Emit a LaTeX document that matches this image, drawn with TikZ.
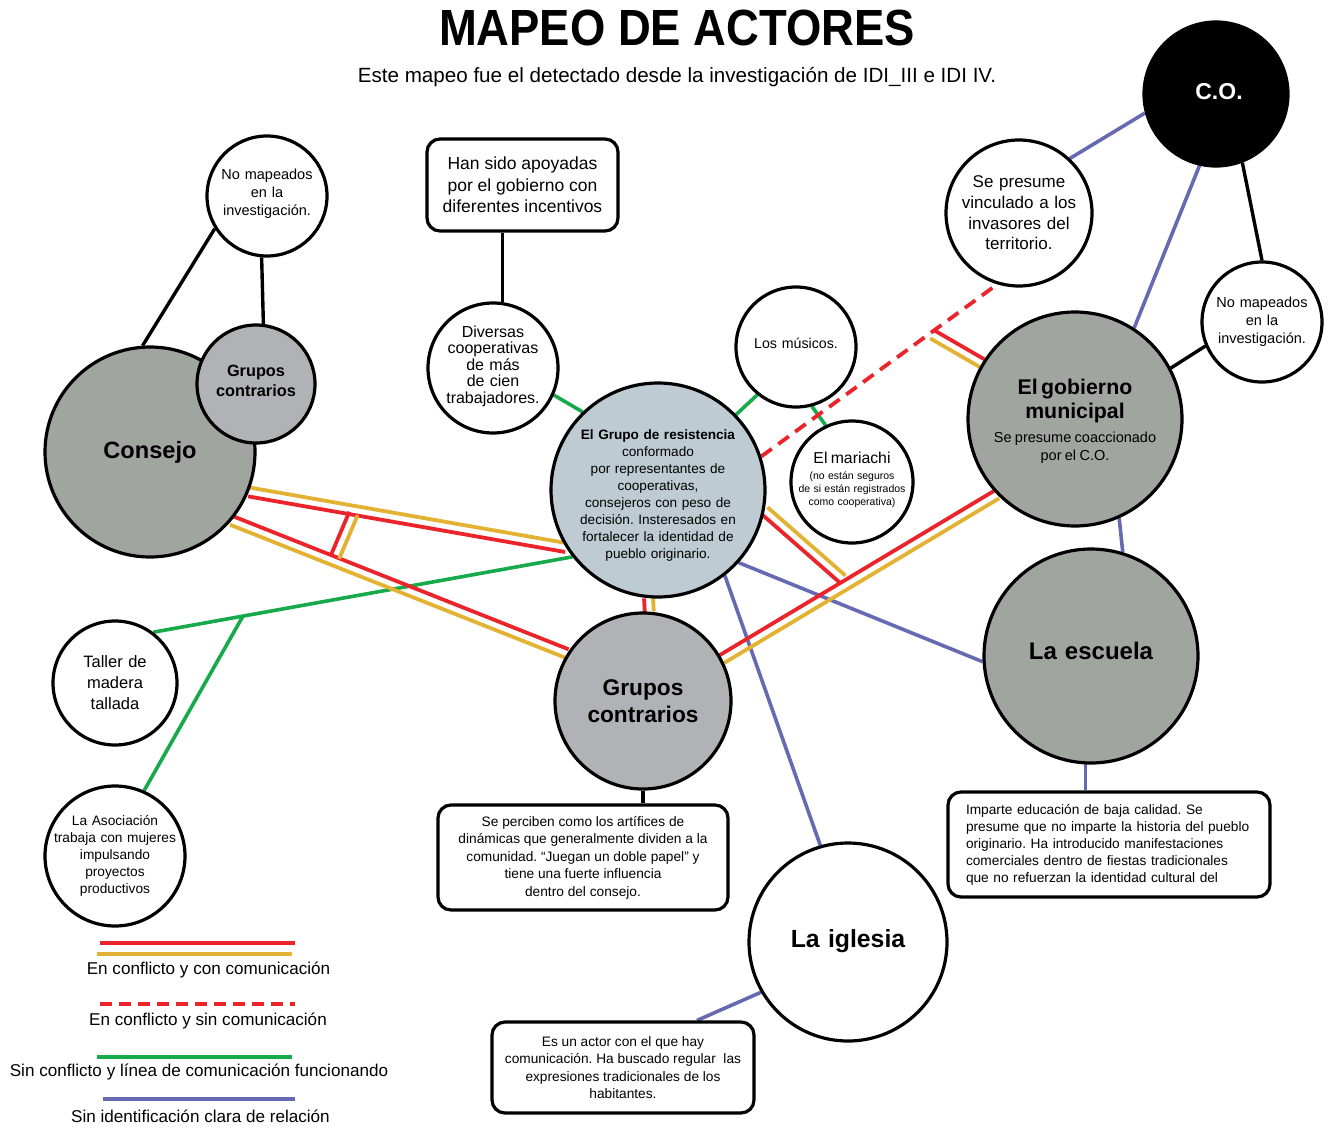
\documentclass[tikz,border=0pt]{standalone}
\usepackage{fontspec}
\usepackage{graphicx}
\setmainfont{Liberation Sans}
\usetikzlibrary{calc}
\pgfdeclarelayer{bg}
\pgfsetlayers{bg,main}
\frenchspacing
\definecolor{cred}{RGB}{235,35,42}
\definecolor{cyel}{RGB}{228,178,50}
\definecolor{cgreen}{RGB}{22,170,75}
\definecolor{cblue}{RGB}{102,106,178}
\definecolor{cgray}{RGB}{160,165,160}
\definecolor{cgrayb}{RGB}{177,178,182}
\definecolor{ccent}{RGB}{190,203,211}
\newcommand{\dbl}[4]{%
  \draw[cl, draw=#3] ($(#1)!4.5pt!90:(#2)$) -- ($(#2)!4.5pt!-90:(#1)$);
  \draw[cl, draw=#4] ($(#1)!4.5pt!-90:(#2)$) -- ($(#2)!4.5pt!90:(#1)$);}
\newcommand{\gobtext}{{\bfseries\fontsize{21.3}{24}\selectfont El gobierno\\municipal\par}\vspace{6pt}{\fontsize{14.5}{18}\selectfont Se presume coaccionado\\por el C.O.\par}}
\newcommand{\martext}{{\fontsize{15.8}{17}\selectfont El mariachi\par}\vspace{3pt}{\fontsize{10.5}{13}\selectfont (no están seguros\\de si están registrados\\como cooperativa)\par}}
\begin{document}
\frenchspacing
\begin{tikzpicture}[x=1pt,y=-1pt,
  circ/.style={circle, draw=black, line width=3.2pt, inner sep=0pt, minimum size=#1, fill=white},
  rbox/.style={rectangle, rounded corners=13pt, draw=black, line width=3.2pt, fill=white, inner sep=0pt, align=center},
  lab/.style={text width=#1, align=center, inner sep=0pt},
  cl/.style={line width=3.8pt},
  bl/.style={line width=3.4pt, draw=black},
  gl/.style={line width=3.6pt, draw=cgreen},
  bul/.style={line width=3.6pt, draw=cblue},
  legt/.style={font=\fontsize{17.1}{20}\selectfont, inner sep=0pt}
]
\useasboundingbox (0,0) rectangle (1332,1129);

% title
\node[font=\bfseries\fontsize{45.4}{50}\selectfont] (title) at (677,28) {\scalebox{1}[1.12]{MAPEO DE ACTORES}};
\node[font=\fontsize{20.6}{24}\selectfont] (sub) at (677,77) {Este mapeo fue el detectado desde la investigación de IDI\_III e IDI IV.};

% circles
\node[circ=144pt, fill=black, label={[lab=100pt, font=\bfseries\fontsize{23}{26}\selectfont, text=white, xshift=3pt, yshift=2pt]center:C.O.}] (CO) at (1216,94) {};
\node[circ=146pt, label={[lab=140pt, font=\fontsize{17}{20.7}\selectfont]center:{Se presume\\vinculado a los\\invasores del\\territorio.}}] (sep) at (1019,213) {};
\node[circ=120pt, label={[lab=110pt, font=\fontsize{14.5}{18}\selectfont]center:{No mapeados\\en la\\investigación.}}] (nmR) at (1262,322) {};
\node[circ=214pt, fill=cgray, label={[lab=200pt, yshift=-2pt]center:\gobtext}] (gob) at (1075,419) {};
\node[circ=214pt, fill=cgray, label={[lab=200pt, font=\bfseries\fontsize{24}{28}\selectfont, yshift=5pt]center:La escuela}] (esc) at (1091,656) {};
\node[circ=198pt, label={[lab=180pt, font=\bfseries\fontsize{24.8}{28}\selectfont, yshift=1pt]center:La iglesia}] (igl) at (848,942) {};
\node[circ=176pt, fill=cgrayb, label={[lab=170pt, font=\bfseries\fontsize{22.7}{27}\selectfont]center:{Grupos\\contrarios}}] (gcB) at (643,701) {};
\node[circ=214pt, fill=ccent, label={[lab=200pt, font=\fontsize{13.6}{17}\selectfont, yshift=-5pt]center:{\textbf{El Grupo de resistencia}\\conformado\\por representantes de\\cooperativas,\\consejeros con peso de\\decisión. Insteresados en\\fortalecer la identidad de\\pueblo originario.}}] (central) at (658,490) {};
\node[circ=122pt, label={[lab=118pt, yshift=2pt]center:\martext}] (mar) at (852,482) {};
\node[circ=120pt, label={[lab=110pt, font=\fontsize{14.2}{17}\selectfont, yshift=4pt]center:Los músicos.}] (mus) at (796,347) {};
\node[circ=130pt, label={[lab=124pt, font=\fontsize{16}{16.5}\selectfont, yshift=2pt]center:{Diversas\\cooperativas\\de más\\de cien\\trabajadores.}}] (div) at (493,368) {};
\node[rbox, minimum width=191pt, minimum height=92pt, font=\fontsize{17.5}{21.5}\selectfont] (hs) at (522.5,185) {Han sido apoyadas\\por el gobierno con\\diferentes incentivos};
\node[circ=120pt, label={[lab=114pt, font=\fontsize{14.5}{18}\selectfont, yshift=2pt]center:{No mapeados\\en la\\investigación.}}] (nmL) at (267,196) {};
\node[circ=210pt, fill=cgray, label={[lab=150pt, font=\bfseries\fontsize{23.6}{28}\selectfont]center:Consejo}] (consejo) at (150,452) {};
\node[circ=118pt, fill=cgrayb, label={[lab=110pt, font=\bfseries\fontsize{16.3}{20}\selectfont, yshift=3pt]center:{Grupos\\contrarios}}] (gsm) at (256,384) {};
\node[circ=124pt, label={[lab=110pt, font=\fontsize{16.5}{21}\selectfont]center:{Taller de\\madera\\tallada}}] (taller) at (115,683) {};
\node[circ=140pt, label={[lab=136pt, font=\fontsize{13.7}{17}\selectfont]center:{La Asociación\\trabaja con mujeres\\impulsando\\proyectos\\productivos}}] (asoc) at (115,856) {};

% boxes
\node[rbox, minimum width=290pt, minimum height=105pt, font=\fontsize{13.7}{17.5}\selectfont] (gbox) at (583,857.5) {Se perciben como los artífices de\\dinámicas que generalmente dividen a la\\comunidad. “Juegan un doble papel” y\\tiene una fuerte influencia\\dentro del consejo.};
\node[rbox, minimum width=322pt, minimum height=105pt, text width=286pt, align=left, font=\fontsize{13.7}{17}\selectfont] (ebox) at (1109,844.5) {Imparte educación de baja calidad. Se\\presume que no imparte la historia del pueblo\\originario. Ha introducido manifestaciones\\comerciales dentro de fiestas tradicionales\\que no refuerzan la identidad cultural del};
\node[rbox, minimum width=262pt, minimum height=91pt, font=\fontsize{13.7}{17.5}\selectfont] (ibox) at (623,1067.5) {Es un actor con el que hay\\comunicación. Ha buscado regular\ \ las\\expresiones tradicionales de los\\habitantes.};

% connectors
\begin{pgfonlayer}{bg}
% black
\draw[bl] (nmL.212) -- (consejo.94);
\draw[bl] (nmL.265) -- (gsm.83);
\draw[bl] (div.82) -- (div.82 |- hs.south);
\draw[bl] (CO.291) -- (nmR.90);
\draw[bl] (nmR.203) -- (gob.28);
\draw[bl] (gcB.south) -- (gcB.south |- gbox.north);
% green
\draw[gl] (div.336) -- (central.134);
\draw[gl] (mus.231) -- (central.44);
\draw[gl] (mus.285) -- (mar.115);
\draw[gl] (central.218) -- (taller.53);
\coordinate (gj) at ($(central.218)!0.786!(taller.53)$);
\draw[gl] (gj) -- (asoc.66);
% blue
\draw[bul] (CO.195) -- (sep.47);
\draw[bul] (CO.257) -- (gob.57);
\draw[bul] (gob.294) -- (esc.73);
\draw[bul] (central.318) -- (esc.183);
\draw[bul] (central.308) -- (igl.106);
\draw[bul] (igl.210) -- ($(ibox.north)+(74,0)$);
\draw[bul] (esc.267) -- (esc.267 |- ebox.north);
% red / yellow
\dbl{consejo.338}{central.212}{cyel}{cred}
\dbl{consejo.320}{gcB.148}{cred}{cyel}
\coordinate (barT) at (353.5,513.5);
\coordinate (barB) at (335,557);
\dbl{barT}{barB}{cyel}{cred}
\dbl{central.265}{gcB.86}{cyel}{cred}
\coordinate (cjunc) at (842.5,579);
\dbl{central.349}{cjunc}{cyel}{cred}
\dbl{gcB.28}{gob.224}{cred}{cyel}
\draw[cl, draw=cred, dash pattern=on 13pt off 8pt] (central.18) -- (sep.253);
\coordinate (dj) at (932.5,334.5);
\dbl{dj}{gob.149}{cred}{cyel}
\end{pgfonlayer}

% legend
\draw[cl, draw=cred] (100,943) -- (295,943);
\draw[cl, draw=cyel] (97,954) -- (292,954);
\node[legt] (leg1) at (208.5,970) {En conflicto y con comunicación};
\draw[cl, draw=cred, dash pattern=on 12pt off 7pt] (100,1004) -- (295,1004);
\node[legt] (leg2) at (208,1021) {En conflicto y sin comunicación};
\draw[cl, draw=cgreen] (97,1057) -- (292,1057);
\node[legt] (leg3) at (199,1072) {Sin conflicto y línea de comunicación funcionando};
\draw[cl, draw=cblue] (103,1099) -- (295,1099);
\node[legt] (leg4) at (200.5,1116) {Sin identificación clara de relación};
\end{tikzpicture}
\end{document}
